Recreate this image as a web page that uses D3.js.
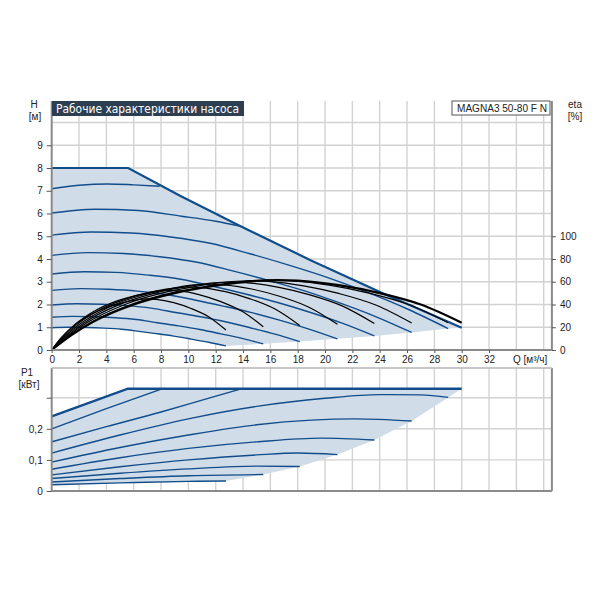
<!DOCTYPE html>
<html><head><meta charset="utf-8">
<script src="https://cdn.jsdelivr.net/npm/d3@7"></script>
<style>
body{margin:0;background:#fff}
text{font-family:"Liberation Sans",Arial,sans-serif;fill:#222}
</style>
</head><body>
<svg id="c" width="600" height="600"></svg>
<script>
// ---------- data ----------
const xTicks = [0,2,4,6,8,10,12,14,16,18,20,22,24,26,28,30,32];
const xGrid = [2,4,6,8,10,12,14,16,18,20,22,24,26,28,30,32,34,36];
const hTicks = [0,1,2,3,4,5,6,7,8,9];
const hGrid = [1,2,3,4,5,6,7,8,9,10];
const etaTicks = [0,20,40,60,80,100];
const pTicks = [0,0.1,0.2,0.3];
const pGrid = [0.1,0.2,0.3];

// H–Q: maximum curve and speed curves [Q m3/h, H m]
const hMax = [[0,8],[5.6,8],[9.39,6.78],[13.75,5.46],[18.9,3.96],[24.1,2.53],[30,0.98]];
const hCurves = [
  [[0,7.09],[2,7.24],[4.1,7.30],[6,7.26],[7.9,7.2]],
  [[0,6.02],[3.17,6.19],[6.34,6.13],[9.5,5.88],[12.0,5.66],[13.75,5.45]],
  [[0,5.05],[2.9,5.19],[5.8,5.14],[8.7,4.97],[11.6,4.69],[14.51,4.23],[17.41,3.72],[20.31,3.16],[23.21,2.51],[26.11,1.78],[29.01,0.94]],
  [[0,4.16],[2.63,4.28],[5.27,4.24],[7.9,4.10],[10.54,3.87],[13.17,3.49],[15.8,3.07],[18.44,2.61],[21.07,2.07],[23.7,1.47],[26.34,0.77]],
  [[0,3.34],[2.36,3.44],[4.72,3.41],[7.08,3.29],[9.44,3.11],[11.8,2.80],[14.17,2.46],[16.53,2.09],[18.89,1.66],[21.25,1.18],[23.61,0.62]],
  [[0,2.62],[2.09,2.70],[4.18,2.67],[6.27,2.59],[8.36,2.44],[10.46,2.20],[12.55,1.93],[14.64,1.64],[16.73,1.30],[18.82,0.92],[20.91,0.49]],
  [[0,1.98],[1.82,2.03],[3.63,2.01],[5.45,1.95],[7.26,1.84],[9.08,1.65],[10.89,1.46],[12.71,1.24],[14.52,0.98],[16.34,0.70],[18.15,0.37]],
  [[0,1.44],[1.55,1.48],[3.1,1.46],[4.64,1.42],[6.19,1.34],[7.74,1.20],[9.29,1.06],[10.84,0.90],[12.38,0.71],[13.93,0.51],[15.48,0.27]],
  [[0,0.98],[1.28,1.00],[2.55,0.99],[3.83,0.96],[5.1,0.91],[6.38,0.82],[7.65,0.72],[8.93,0.61],[10.2,0.48],[11.48,0.34],[12.75,0.18]]
];
const hLowerBound = [[12.75,0.18],[15.48,0.27],[18.15,0.37],[20.91,0.49],[23.61,0.62],[26.34,0.77],[29.01,0.94],[30,0.98]];

// efficiency curves [Q m3/h, eta %]
const etaCurves = [
  [[0,0],[1.5,13.5],[3,24.5],[6,40],[9,50],[12,56.5],[15,60.8],[16.5,61.5],[18,61],[21,57],[24,50],[27,40],[30,24]],
  [[0,0],[1.45,13.5],[2.9,24.5],[5.8,40],[8.7,50],[11.6,56.5],[14.51,60.8],[15.96,61.5],[17.41,61],[20.31,57],[23.21,50],[26.11,40],[29.01,24]],
  [[0,0],[1.32,13.4],[2.63,24.3],[5.27,39.6],[7.9,49.5],[10.54,55.9],[13.17,60.2],[14.49,60.9],[15.8,60.4],[18.44,56.4],[21.07,49.5],[23.71,39.6],[26.34,23.8]],
  [[0,0],[1.18,13.1],[2.36,23.8],[4.72,38.8],[7.08,48.5],[9.44,54.8],[11.81,59.0],[12.99,59.7],[14.17,59.2],[16.53,55.3],[18.89,48.5],[21.25,38.8],[23.61,23.3]],
  [[0,0],[1.05,12.7],[2.09,23.0],[4.18,37.6],[6.27,47.0],[8.36,53.1],[10.46,57.2],[11.5,57.8],[12.55,57.3],[14.64,53.6],[16.73,47.0],[18.82,37.6],[20.91,22.6]],
  [[0,0],[0.91,12.2],[1.82,22.1],[3.63,36.0],[5.45,45.0],[7.26,50.9],[9.08,54.7],[9.98,55.4],[10.89,54.9],[12.71,51.3],[14.52,45.0],[16.34,36.0],[18.15,21.6]],
  [[0,0],[0.77,11.5],[1.55,20.8],[3.1,34.0],[4.64,42.5],[6.19,48.0],[7.74,51.7],[8.51,52.3],[9.29,51.9],[10.84,48.5],[12.38,42.5],[13.93,34.0],[15.48,20.4]],
  [[0,0],[0.64,9.9],[1.28,17.9],[2.55,29.2],[3.83,36.5],[5.1,41.2],[6.38,44.4],[7.01,44.9],[7.65,44.5],[8.93,41.6],[10.2,36.5],[11.48,29.2],[12.75,17.5]]
];

// P1–Q [Q m3/h, P1 kW]
const pMax = [[0,0.240],[5.58,0.329],[30,0.329]];
const pCurves = [
  [[0,0.200],[4,0.265],[7.97,0.327]],
  [[0,0.158],[4,0.207],[8,0.254],[11,0.292],[13.75,0.327]],
  [[0,0.122],[5,0.180],[10,0.232],[15,0.272],[20,0.298],[24,0.310],[27,0.309],[29.01,0.301]],
  [[0,0.093],[5,0.140],[10,0.180],[15,0.213],[19,0.228],[22.2,0.232],[26.34,0.225]],
  [[0,0.070],[5,0.107],[10,0.137],[15,0.158],[19.75,0.170],[23.61,0.164]],
  [[0,0.052],[5,0.078],[10,0.100],[15,0.116],[18,0.122],[20.91,0.117]],
  [[0,0.040],[5,0.057],[10,0.071],[15,0.080],[18.15,0.079]],
  [[0,0.029],[5,0.040],[10,0.049],[15.48,0.053]],
  [[0,0.020],[5,0.026],[10,0.031],[12.75,0.032]]
];
const pLowerBound = [[12.75,0.032],[15.48,0.053],[18.15,0.079],[20.91,0.117],[23.61,0.164],[26.34,0.225],[29.01,0.301],[30,0.329]];

// ---------- drawing ----------
const svg = d3.select('#c');
const x = d3.scaleLinear().domain([0,30]).range([51.7,461.7]);
const yH = d3.scaleLinear().domain([0,10]).range([350,122.5]);
const yE = d3.scaleLinear().domain([0,200]).range([350,122.5]);
const yP = d3.scaleLinear().domain([0,0.3]).range([491,397.7]);
const xL = x(0), xR = x(36.6);
const topU = 101, botU = yH(0), topL = 368, botL = yP(0);
const gridCol = '#d2d2d2', axCol = '#8a8a8a';
const fillCol = '#d0dce8', blue = '#124d8b';

const grid = svg.append('g');
xGrid.forEach(v => {
  grid.append('line').attr('x1',x(v)).attr('x2',x(v)).attr('y1',topU).attr('y2',botU).attr('stroke',gridCol).attr('stroke-width',1.4);
  grid.append('line').attr('x1',x(v)).attr('x2',x(v)).attr('y1',topL).attr('y2',botL).attr('stroke',gridCol).attr('stroke-width',1.4);
});
hGrid.forEach(v => grid.append('line').attr('x1',xL).attr('x2',xR).attr('y1',yH(v)).attr('y2',yH(v)).attr('stroke',gridCol).attr('stroke-width',1.4));
pGrid.forEach(v => grid.append('line').attr('x1',xL).attr('x2',xR).attr('y1',yP(v)).attr('y2',yP(v)).attr('stroke',gridCol).attr('stroke-width',1.4));

// shaded operating areas
const polyH = d3.line().x(d=>x(d[0])).y(d=>yH(d[1]));
const polyP = d3.line().x(d=>x(d[0])).y(d=>yP(d[1]));
const lowestH = hCurves[hCurves.length-1];
const areaH = hMax.concat(hLowerBound.slice().reverse(), lowestH.slice().reverse());
svg.append('path').attr('d',polyH(areaH)+'Z').attr('fill',fillCol);
const lowestP = pCurves[pCurves.length-1];
const areaP = pMax.concat(pLowerBound.slice().reverse(), lowestP.slice().reverse());
svg.append('path').attr('d',polyP(areaP)+'Z').attr('fill',fillCol);

// H curves
const lineH = d3.line().x(d=>x(d[0])).y(d=>yH(d[1])).curve(d3.curveMonotoneX);
hCurves.forEach(c => svg.append('path').attr('d',lineH(c)).attr('fill','none').attr('stroke',blue).attr('stroke-width',1.4));
svg.append('path').attr('d',d3.line().x(d=>x(d[0])).y(d=>yH(d[1]))(hMax)).attr('fill','none').attr('stroke',blue).attr('stroke-width',2.2);

// P1 curves
const lineP = d3.line().x(d=>x(d[0])).y(d=>yP(d[1])).curve(d3.curveMonotoneX);
pCurves.forEach(c => svg.append('path').attr('d',lineP(c)).attr('fill','none').attr('stroke',blue).attr('stroke-width',1.4));
svg.append('path').attr('d',d3.line().x(d=>x(d[0])).y(d=>yP(d[1]))(pMax)).attr('fill','none').attr('stroke',blue).attr('stroke-width',2.4);

// eta curves
const lineE = d3.line().x(d=>x(d[0])).y(d=>yE(d[1])).curve(d3.curveMonotoneX);
etaCurves.forEach((c,i) => svg.append('path').attr('d',lineE(c)).attr('fill','none').attr('stroke','#000').attr('stroke-width', i===0?2.2:1.2));

// frames
const fr = svg.append('g').attr('stroke',axCol).attr('stroke-width',2);
fr.append('line').attr('x1',xL).attr('x2',xL).attr('y1',topU).attr('y2',botU);
fr.append('line').attr('x1',xR).attr('x2',xR).attr('y1',topU).attr('y2',botU);
fr.append('line').attr('x1',xL).attr('x2',xR).attr('y1',botU).attr('y2',botU);
fr.append('line').attr('x1',xL).attr('x2',xL).attr('y1',topL).attr('y2',botL);
fr.append('line').attr('x1',xR).attr('x2',xR).attr('y1',topL).attr('y2',botL);
fr.append('line').attr('x1',xL).attr('x2',xR).attr('y1',botL).attr('y2',botL);
fr.append('line').attr('x1',xL).attr('x2',xR).attr('y1',topL).attr('y2',topL).attr('stroke','#b5b5b5').attr('stroke-width',1.5);

// axes
function styleAxis(g){
  g.select('.domain').remove();
  g.selectAll('.tick line').attr('stroke','#555');
  g.selectAll('.tick text').attr('fill','#222').style('font-size','10px').style('font-family','"Liberation Sans",Arial,sans-serif');
}
svg.append('g').attr('transform',`translate(${xL},0)`)
  .call(d3.axisLeft(yH).tickValues(hTicks).tickSize(5).tickPadding(4).tickFormat(d3.format('d'))).call(styleAxis);
svg.append('g').attr('transform',`translate(0,${botU})`)
  .call(d3.axisBottom(x).tickValues(xTicks).tickSize(3).tickPadding(3).tickFormat(d3.format('d'))).call(styleAxis);
svg.append('g').attr('transform',`translate(${xR},0)`)
  .call(d3.axisRight(yE).tickValues(etaTicks).tickSize(4).tickPadding(4).tickFormat(d3.format('d'))).call(styleAxis);
svg.append('g').attr('transform',`translate(${xL},0)`)
  .call(d3.axisLeft(yP).tickValues(pTicks).tickSize(5).tickPadding(4)
    .tickFormat(d => d===0.3 ? '' : (d===0 ? '0' : String(d).replace('.',',')))).call(styleAxis);

// labels
function label(t,xx,yy,anchor,size){
  return svg.append('text').attr('x',xx).attr('y',yy).attr('text-anchor',anchor||'middle').style('font-size',(size||10)+'px').text(t);
}
label('H',34,108);
label('[м]',35,120);
label('eta',575,108);
label('[%]',575,120);
label('P1',27,376);
label('[кВт]',29,388);
label('Q [м³/ч]',513,363,'start');

// title box
svg.append('rect').attr('x',52).attr('y',101).attr('width',192).attr('height',15).attr('fill','#2c3e50');
svg.append('text').attr('x',56).attr('y',112.5)
  .attr('textLength',183).attr('lengthAdjust','spacingAndGlyphs')
  .style('font-family','"DejaVu Sans",sans-serif').style('font-size','11.5px').style('fill','#fff')
  .text('Рабочие характеристики насоса');

// model box
svg.append('rect').attr('x',452).attr('y',101).attr('width',98).attr('height',14).attr('fill','#fff').attr('stroke','#555').attr('stroke-width',1);
label('MAGNA3 50-80 F N',457,112,'start',10.5).attr('textLength',90).attr('lengthAdjust','spacingAndGlyphs');
</script>
</body></html>
